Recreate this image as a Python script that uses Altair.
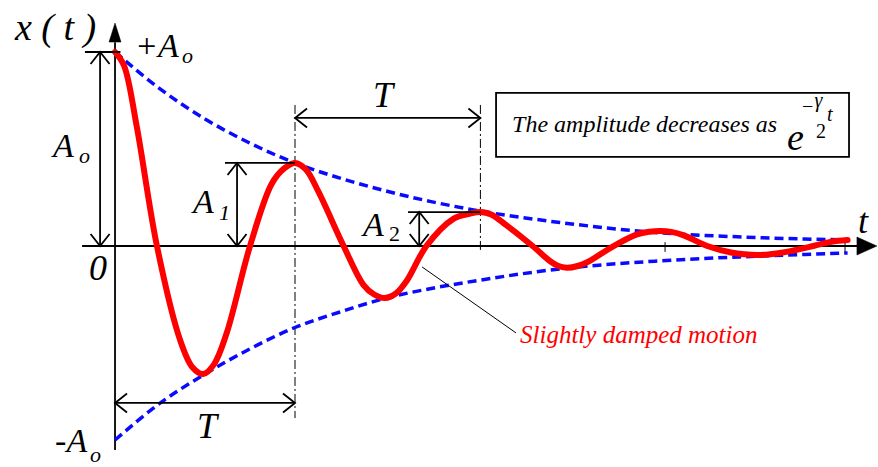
import altair as alt
import pandas as pd

# Damped oscillation x(t): time in units of the period T, displacement in units of A0
t_motion = [0.0, 0.05, 0.12, 0.233, 0.36, 0.43, 0.49, 0.55, 0.62, 0.75, 0.87, 0.94, 1.0,
            1.06, 1.13, 1.27, 1.38, 1.44, 1.5, 1.56, 1.62, 1.73, 1.88, 1.97, 2.03, 2.09,
            2.17, 2.32, 2.42, 2.46, 2.51, 2.57, 2.64, 2.77, 2.9, 2.97, 3.03, 3.09, 3.16,
            3.29, 3.43, 3.5, 3.57, 3.64, 3.73, 3.88, 3.98, 4.07]
x_motion = [1.0, 0.93, 0.62, 0.0, -0.48, -0.625, -0.66, -0.61, -0.45, 0.0, 0.32, 0.40, 0.428,
            0.395, 0.28, 0.0, -0.2, -0.25, -0.268, -0.245, -0.18, 0.0, 0.14, 0.166, 0.175, 0.162,
            0.11, 0.0, -0.08, -0.102, -0.112, -0.103, -0.075, 0.0, 0.06, 0.074, 0.078, 0.073, 0.055,
            0.0, -0.035, -0.043, -0.046, -0.042, -0.03, 0.0, 0.022, 0.031]

# Exponential envelope +/- A0 e^{-gamma t / 2}
t_env = [0.0, 0.25, 0.5, 0.75, 1.0, 1.25, 1.5, 1.75, 2.0, 2.5, 3.0, 3.5, 4.07]
env_upper = [1.0, 0.81, 0.655, 0.53, 0.428, 0.35, 0.285, 0.23, 0.185, 0.118, 0.07, 0.046, 0.031]
env_lower = [-1.0, -0.81, -0.66, -0.53, -0.42, -0.34, -0.27, -0.22, -0.18, -0.115, -0.078, -0.055, -0.036]

A0 = x_motion[0]
A1 = x_motion[t_motion.index(1.0)]
A2 = x_motion[t_motion.index(2.03)]
T1, T2 = 1.0, 2.03          # successive maxima, one period apart

SERIF = "Liberation Serif"
XS = alt.Scale(domain=[-0.639, 4.239], nice=False, zero=False)
YS = alt.Scale(domain=[-1.139, 1.268], nice=False, zero=False)


def xq(field="t"):
    return alt.X(f"{field}:Q", scale=XS, axis=None)


def yq(field="v"):
    return alt.Y(f"{field}:Q", scale=YS, axis=None)


def segments(rows, width=1.8, color="black", dash=None):
    df = pd.DataFrame(rows, columns=["t", "v", "t2", "v2"])
    kw = dict(color=color, strokeWidth=width)
    if dash:
        kw["strokeDash"] = dash
    return alt.Chart(df).mark_rule(**kw).encode(
        x=xq(), y=yq(), x2="t2:Q", y2="v2:Q")


def label(text, t, v, size, align="left", color="black", italic=True):
    df = pd.DataFrame({"t": [t], "v": [v], "s": [text]})
    return alt.Chart(df).mark_text(
        align=align, baseline="alphabetic", fontSize=size, font=SERIF,
        fontStyle="italic" if italic else "normal", color=color
    ).encode(x=xq(), y=yq(), text="s:N")


# open chevron arrow heads (tip at the point)
CHEV = {
    "up": "M -0.95 1.2 L 0 0 L 0.95 1.2",
    "down": "M -0.95 -1.2 L 0 0 L 0.95 -1.2",
    "left": "M 1.2 -0.95 L 0 0 L 1.2 0.95",
    "right": "M -1.2 -0.95 L 0 0 L -1.2 0.95",
}
heads = pd.DataFrame([
    (-0.083, A0, CHEV["up"]), (-0.083, 0.0, CHEV["down"]),
    (0.678, A1, CHEV["up"]), (0.678, 0.0, CHEV["down"]),
    (1.69, A2, CHEV["up"]), (1.69, 0.0, CHEV["down"]),
    (T1, 0.66, CHEV["left"]), (T2, 0.66, CHEV["right"]),
    (0.0, -0.809, CHEV["left"]), (T1, -0.809, CHEV["right"]),
], columns=["t", "v", "shape"])
chevrons = alt.Chart(heads).mark_point(
    filled=False, stroke="black", strokeWidth=1.8, size=400, opacity=1
).encode(x=xq(), y=yq(), shape=alt.Shape("shape:N", scale=None))

# solid axis arrow heads
tips = pd.DataFrame([
    (4.233, 0.0, "M 0 0 L -2 -0.9 L -2 0.9 Z"),
    (0.0, 1.149, "M 0 0 L -0.6 1.9 L 0.6 1.9 Z"),
], columns=["t", "v", "shape"])
axis_tips = alt.Chart(tips).mark_point(
    filled=True, fill="black", stroke="black", strokeWidth=0.5, size=400, opacity=1
).encode(x=xq(), y=yq(), shape=alt.Shape("shape:N", scale=None))

dashdot = segments([(T1, 0.727, T1, -0.887), (T2, 0.727, T2, -0.02)],
                   width=1, dash=[9, 3, 2, 3])
axes = segments([(-0.183, 0.0, 4.14, 0.0), (0.0, -1.052, 0.0, 1.05)], width=1.8)
ticks = segments([(3.056, -0.03, 3.056, 0.02), (4.056, -0.03, 4.056, 0.02)], width=1)
arrows = segments([
    (-0.083, 0.0, -0.083, A0), (-0.167, A0, 0.03, A0),
    (0.678, 0.0, 0.678, A1), (0.611, A1, T1, A1),
    (1.69, 0.0, 1.69, A2), (1.628, A2, T2, A2),
    (T1, 0.66, T2, 0.66), (0.0, -0.809, T1, -0.809),
], width=1.8)
leader = segments([(1.706, -0.108, 2.228, -0.448)], width=1)

env_df = pd.DataFrame({"t": t_env + t_env,
                       "v": env_upper + env_lower,
                       "side": ["upper"] * len(t_env) + ["lower"] * len(t_env)})
envelope = alt.Chart(env_df).mark_line(
    color="#0a0aff", strokeWidth=3.5, strokeDash=[9, 5], interpolate="monotone"
).encode(x=xq(), y=yq(), detail="side:N")

motion = alt.Chart(pd.DataFrame({"t": t_motion, "v": x_motion})).mark_line(
    color="#ff0000", strokeWidth=6, interpolate="catmull-rom", strokeCap="round"
).encode(x=xq(), y=yq())

box = alt.Chart(pd.DataFrame({"t": [2.117], "v": [0.789], "t2": [4.078], "v2": [0.459]})).mark_rect(
    fill="white", stroke="black", strokeWidth=1.8
).encode(x=xq(), y=yq(), x2="t2:Q", y2="v2:Q")

texts = [
    label("x ( t )", -0.556, 1.062, 38),
    label("+A", 0.111, 0.974, 34), label("o", 0.372, 0.943, 22),
    label("A", -0.344, 0.459, 34), label("o", -0.2, 0.428, 22),
    label("A", 0.433, 0.170, 34), label("1", 0.578, 0.134, 22),
    label("A", 1.378, 0.052, 34), label("2", 1.522, 0.026, 22, italic=False),
    label("0", -0.094, -0.175, 36, align="center"),
    label("T", 1.489, 0.716, 36, align="center"),
    label("T", 0.511, -0.990, 36, align="center"),
    label("-A", -0.333, -1.062, 34), label("o", -0.139, -1.113, 22),
    label("t", 4.128, 0.067, 36),
    label("Slightly damped motion", 2.25, -0.5, 25, color="#ff0000"),
    label("The amplitude decreases as", 2.206, 0.588, 24),
    label("e", 3.733, 0.495, 38),
    label("\u2212", 3.817, 0.686, 20, italic=False),
    label("\u03b3", 3.886, 0.716, 20),
    label("2", 3.894, 0.557, 20, italic=False),
    label("t", 3.956, 0.644, 20),
]

chart = alt.layer(
    dashdot, axes, ticks, envelope, motion, arrows, leader, chevrons, axis_tips, box, *texts
).properties(
    width=878, height=467, padding=0, autosize="none", background="white"
).configure_view(stroke=None)

chart.save("out.html", embed_options={"renderer": "svg", "actions": False})
